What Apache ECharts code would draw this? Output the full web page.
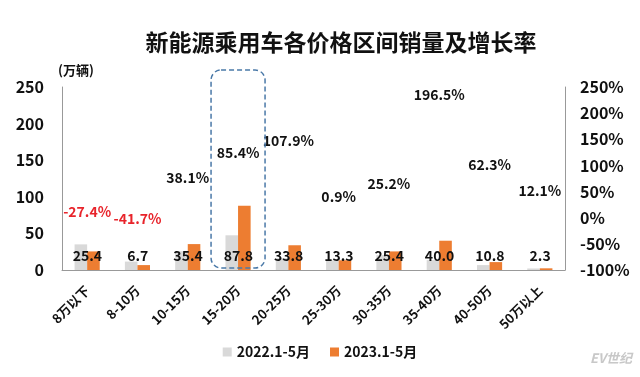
<!DOCTYPE html>
<html>
<head>
<meta charset="utf-8">
<script src="https://cdn.jsdelivr.net/npm/echarts@6/dist/echarts.min.js"></script>
<style>
  html, body { margin: 0; padding: 0; background: #fff; }
  #main { width: 640px; height: 377px; }
</style>
</head>
<body>
<div id="main"></div>
<script>
// 价格区间
var categories = ['8万以下', '8-10万', '10-15万', '15-20万', '20-25万', '25-30万', '30-35万', '35-40万', '40-50万', '50万以上'];
// 2022.1-5月 销量(万辆)
var sales2022 = [35.0, 11.5, 25.6, 47.4, 16.3, 13.2, 20.3, 13.5, 6.7, 2.1];
// 2023.1-5月 销量(万辆)
var sales2023 = [25.4, 6.7, 35.4, 87.8, 33.8, 13.3, 25.4, 40.0, 10.8, 2.3];
// 增长率 %
var growthRate = [-27.4, -41.7, 38.1, 85.4, 107.9, 0.9, 25.2, 196.5, 62.3, 12.1];
var leftTicks = [0, 250, 50];      // min, max, interval
var rightTicks = [-100, 250, 50];

var FONT = '"Noto Sans CJK SC", "Noto Sans", sans-serif';
var chart = echarts.init(document.getElementById('main'));

var option = {
    backgroundColor: '#fff',
    animation: false,
    textStyle: { fontFamily: FONT },
    title: {
        text: '新能源乘用车各价格区间销量及增长率',
        left: 336,
        textAlign: 'center',
        top: 26,
        textStyle: { fontSize: 23, fontWeight: 'bold', color: '#111', fontFamily: FONT }
    },
    legend: {
        bottom: 13,
        left: 'center',
        itemWidth: 9,
        itemHeight: 9,
        itemGap: 20,
        icon: 'rect',
        textStyle: { fontSize: 14, fontWeight: 'bold', color: '#111', fontFamily: FONT },
        data: ['2022.1-5月', '2023.1-5月']
    },
    grid: { left: 62, right: 75, top: 87, bottom: 107 },
    xAxis: {
        type: 'category',
        data: categories,
        axisLine: { lineStyle: { color: '#999' } },
        axisTick: { show: false },
        axisLabel: {
            interval: 0,
            rotate: 45,
            margin: 18,
            fontSize: 13,
            fontWeight: 'bold',
            color: '#111',
            fontFamily: FONT
        }
    },
    yAxis: [{
        type: 'value',
        min: leftTicks[0],
        max: leftTicks[1],
        interval: leftTicks[2],
        name: '(万辆)',
        nameLocation: 'end',
        nameGap: 10,
        nameTextStyle: { fontSize: 13, fontWeight: 'bold', color: '#111', align: 'left', padding: [0, 0, 0, -4] },
        axisLine: { show: true, lineStyle: { color: '#999' } },
        axisTick: { show: false },
        splitLine: { show: false },
        axisLabel: { margin: 18, fontSize: 16, fontWeight: 'bold', color: '#111', fontFamily: FONT }
    }, {
        type: 'value',
        min: rightTicks[0],
        max: rightTicks[1],
        interval: rightTicks[2],
        position: 'right',
        axisLine: { show: true, lineStyle: { color: '#999' } },
        axisTick: { show: false },
        splitLine: { show: false },
        axisLabel: {
            margin: 15,
            fontSize: 16,
            fontWeight: 'bold',
            color: '#111',
            fontFamily: FONT,
            formatter: '{value}%'
        }
    }],
    series: [{
        name: '2022.1-5月',
        type: 'bar',
        data: sales2022,
        barGap: 0,
        barCategoryGap: '50%',
        itemStyle: { color: '#d9d9d9' }
    }, {
        name: '2023.1-5月',
        type: 'bar',
        data: sales2023,
        itemStyle: { color: '#ed7d31' },
        label: {
            show: true,
            position: 'insideBottom',
            distance: 7,
            offset: [-6, 0],
            fontSize: 14,
            fontWeight: 'bold',
            color: '#111',
            fontFamily: FONT,
            formatter: function (p) { return p.value.toFixed(1); }
        }
    }, {
        name: '增长率',
        type: 'line',
        yAxisIndex: 1,
        data: growthRate.map(function (v) {
            return { value: v, label: { color: v < 0 ? '#e8242b' : '#111' } };
        }),
        symbol: 'circle',
        symbolSize: 1,
        itemStyle: { color: 'rgba(0,0,0,0)' },
        lineStyle: { opacity: 0 },
        label: {
            show: true,
            position: 'top',
            distance: 13,
            fontSize: 14,
            fontWeight: 'bold',
            fontFamily: FONT,
            formatter: function (p) { return p.value.toFixed(1) + '%'; }
        }
    }]
};
chart.setOption(option);

// 15-20万 的虚线圆角框
var hi = 3;
var cx = chart.convertToPixel({ xAxisIndex: 0 }, categories[hi]);
var halfW = 27;
chart.setOption({
    graphic: [{
        type: 'rect',
        shape: { x: cx - halfW, y: 70, width: halfW * 2, height: 198, r: 10 },
        style: { fill: 'none', stroke: '#4a79a8', lineWidth: 1.5, lineDash: [5, 3] },
        z: 10
    }, {
        type: 'text',
        right: 8,
        bottom: 12,
        style: { text: 'EV世纪', fill: '#c8c8c8', font: 'italic bold 13px ' + FONT }
    }]
});
</script>
</body>
</html>
